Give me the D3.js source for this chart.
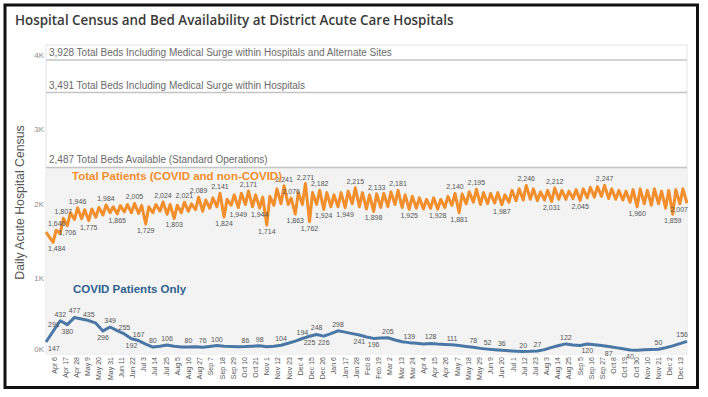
<!DOCTYPE html>
<html><head><meta charset="utf-8">
<script src="https://cdn.jsdelivr.net/npm/d3@7"></script>
<style>body{margin:0;background:#fff}svg{display:block}</style>
</head><body><svg id="c" width="708" height="397"></svg>
<script>
// ---------------- DATA ----------------
const startDate = "2020-03-29";
const endDate = "2021-12-19";
// Total patients: alternating weekly low (Sun) / high (Wed) values, last = final day
const totalPatients = [
1620,1560, 1484,1646, 1600,1807, 1706,1880, 1790,1946, 1800,1920, 1775,1930, 1820,1950,
1850,1984, 1880,1960, 1865,1975, 1890,1990, 1880,2005, 1870,1980, 1729,1960, 1880,1990,
1900,2024, 1860,1990, 1803,1980, 1880,2021, 1900,2000, 1920,2089, 1900,2050, 1940,2080,
1960,2141, 1824,2060, 1980,2120, 1949,2140, 1990,2171, 1960,2120, 1944,2090, 1714,2100,
1980,2200, 2000,2241, 1990,2076, 1863,2150, 1990,2271, 1762,2150, 1990,2182, 1924,2150,
1960,2120, 1960,2150, 1949,2170, 2000,2215, 1960,2150, 1930,2120, 1898,2133, 1950,2140,
1960,2160, 1990,2181, 1950,2120, 1925,2100, 1940,2080, 1930,2060, 1940,2080, 1928,2060,
1950,2100, 1980,2140, 1881,2130, 2000,2160, 2020,2195, 1990,2150, 2000,2140, 2010,2150,
1987,2120, 2020,2180, 2040,2200, 2050,2246, 2060,2200, 2040,2160, 2050,2180, 2031,2212,
2060,2180, 2060,2170, 2070,2190, 2045,2200, 2080,2220, 2090,2230, 2100,2247, 2070,2200,
2060,2180, 2050,2170, 2020,2190, 1960,2200, 2000,2180, 1980,2200, 2000,2170, 1940,2180,
1859,2190, 2000,2200,
2007];
// COVID patients: weekly values
const covidPatients = [
147,291,432,380,477,455,435,400,296,349,300,255,192,167,120,80,
90,106,90,82,80,84,76,88,100,92,88,84,86,92,98,85,
90,104,130,160,194,225,248,226,260,298,280,260,241,215,196,200,
205,175,150,139,132,122,128,120,115,111,100,88,78,62,52,44,
36,30,24,20,22,27,45,75,100,122,108,100,120,112,100,87,
72,58,40,38,42,46,50,70,95,125,156];
// labelled points (indices into the arrays above)
const totalLabelsAbove = [3,5,9,17,25,33,39,43,49,57,67,69,73,77,87,93,99,115,121,135,143,157];
const totalLabelsBelow = [2,6,12,20,28,36,50,54,60,62,70,74,78,84,92,102,110,116,128,142,150,166,176,180];
const covidLabelsAbove = [1,2,4,6,9,11,13,15,17,20,22,24,28,30,33,36,38,41,48,51,54,57,60,62,64,67,69,73,86,90];
const covidLabelsBelow = [0,3,8,12,37,39,44,46,76,79,82];
const bedLevels = [3928, 3491, 2487];
const bedLabels = [
  "3,928 Total Beds Including Medical Surge within Hospitals and Alternate Sites",
  "3,491 Total Beds Including Medical Surge within Hospitals",
  "2,487 Total Beds Available (Standard Operations)"];
const yTickValues = [0, 1000, 2000, 3000, 4000];
const yTickLabels = ["0K", "1K", "2K", "3K", "4K"];
const xTickStart = "2020-04-06";
const xTickLabels = ["Apr 6","Apr 17","Apr 28","May 9","May 20","May 31","Jun 11","Jun 22","Jul 3","Jul 14",
"Jul 25","Aug 5","Aug 16","Aug 27","Sep 7","Sep 18","Sep 29","Oct 10","Oct 21","Nov 1","Nov 12","Nov 23",
"Dec 4","Dec 15","Dec 26","Jan 6","Jan 17","Jan 28","Feb 8","Feb 19","Mar 2","Mar 13","Mar 24","Apr 4",
"Apr 15","Apr 26","May 7","May 18","May 29","Jun 9","Jun 20","Jul 1","Jul 12","Jul 23","Aug 3","Aug 14",
"Aug 25","Sep 5","Sep 16","Sep 27","Oct 8","Oct 19","Oct 30","Nov 10","Nov 21","Dec 2","Dec 13"];
const title = "Hospital Census and Bed Availability at District Acute Care Hospitals";
const yTitle = "Daily Acute Hospital Census";
const totalTitle = "Total Patients (COVID and non-COVID)";
const covidTitle = "COVID Patients Only";

// ---------------- CHART ----------------
const parse = d3.timeParse("%Y-%m-%d");
const t0 = parse(startDate), t1 = parse(endDate);
const svg = d3.select("#c");
const L = 46, R = 687, T = 45, B = 354;
const x = d3.scaleTime().domain([t0, t1]).range([L, R]);
const y = d3.scaleLinear().domain([0, 4000]).range([353, 54.6]);
const sans = "'Liberation Sans', Arial, sans-serif";

const totalData = totalPatients.map((v, k) => ({
  date: d3.timeDay.offset(t0, 7 * Math.floor(k / 2) + (k % 2 ? 3 : 0)), v }));
const covidData = covidPatients.map((v, i) => ({ date: d3.timeDay.offset(t0, 7 * i), v }));

// frame
svg.append("rect").attr("x", 5).attr("y", 5).attr("width", 692.5).attr("height", 382.5)
  .attr("fill", "#fff").attr("stroke", "#111").attr("stroke-width", 3);

// title
svg.append("text").attr("x", 15).attr("y", 25).text(title)
  .attr("font-family", "'Open Sans', sans-serif").attr("font-weight", 600)
  .attr("font-size", 13.4).attr("fill", "#3a3a3a");

// panel
svg.append("rect").attr("x", L).attr("y", T).attr("width", R - L).attr("height", B - T)
  .attr("fill", "#fff").attr("stroke", "#e4e4e4").attr("stroke-width", 1);
svg.append("rect").attr("x", L + 0.5).attr("y", y(bedLevels[2])).attr("width", R - L - 1)
  .attr("height", B - y(bedLevels[2])).attr("fill", "#f3f3f3");

// bed lines
const beds = svg.append("g");
bedLevels.forEach((b, i) => {
  beds.append("line").attr("x1", L).attr("x2", R).attr("y1", y(b)).attr("y2", y(b))
    .attr("stroke", "#c4c4c4").attr("stroke-width", 1.6);
  beds.append("text").attr("x", L + 3).attr("y", y(b) - 4).text(bedLabels[i])
    .attr("font-family", sans).attr("font-size", 10).attr("fill", "#6a6a6a");
});

// y axis labels
const ya = svg.append("g").attr("font-family", sans).attr("font-size", 8).attr("fill", "#8a8a8a");
yTickValues.forEach((v, i) => {
  ya.append("text").attr("x", 44).attr("y", Math.min(y(v), 349) + 3)
    .attr("text-anchor", "end").text(yTickLabels[i]);
});
svg.append("text").attr("transform", `translate(24,${(T + B) / 2 + 3}) rotate(-90)`)
  .attr("text-anchor", "middle").text(yTitle)
  .attr("font-family", sans).attr("font-size", 12.3).attr("fill", "#555");

// x axis labels
const xs = d3.timeParse("%Y-%m-%d")(xTickStart);
const xa = svg.append("g").attr("font-family", sans).attr("font-size", 7).attr("fill", "#555");
xTickLabels.forEach((lab, i) => {
  const px = x(d3.timeDay.offset(xs, 11 * i));
  xa.append("text").attr("transform", `translate(${px + 2.5},357) rotate(-90)`)
    .attr("text-anchor", "end").text(lab);
});

// lines
const line = d3.line().x(d => x(d.date)).y(d => y(d.v));
svg.append("path").datum(covidData).attr("d", line).attr("fill", "none")
  .attr("stroke", "#4a77a5").attr("stroke-width", 3).attr("stroke-linejoin", "round");
svg.append("path").datum(totalData).attr("d", line).attr("fill", "none")
  .attr("stroke", "#f28e2b").attr("stroke-width", 3).attr("stroke-linejoin", "round");

// labels
const fmt = d3.format(",");
function addLabels(data, idxs, above) {
  const g = svg.append("g").attr("font-family", sans).attr("font-size", 7).attr("fill", "#555");
  idxs.forEach(k => {
    const d = data[k];
    const last = k === data.length - 1;
    const t = g.append("text").attr("x", x(d.date) + (last ? 1 : 0))
      .attr("y", above ? y(d.v) - 4 : y(d.v) + 9)
      .attr("text-anchor", last ? "end" : "middle").text(fmt(d.v));
    const w = t.node().getComputedTextLength();
    if (!last && x(d.date) - w / 2 < L + 2) t.attr("x", L + 2).attr("text-anchor", "start");
  });
}
addLabels(totalData, totalLabelsAbove, true);
addLabels(totalData, totalLabelsBelow, false);
addLabels(covidData, covidLabelsAbove, true);
addLabels(covidData, covidLabelsBelow, false);

// series titles
svg.append("text").attr("x", 72).attr("y", 179.5).text(totalTitle)
  .attr("font-family", sans).attr("font-weight", 700).attr("font-size", 11.5).attr("fill", "#f28e2b");
svg.append("text").attr("x", 73).attr("y", 293).text(covidTitle)
  .attr("font-family", sans).attr("font-weight", 700).attr("font-size", 11.5).attr("fill", "#2f5f8f");
</script></body></html>
